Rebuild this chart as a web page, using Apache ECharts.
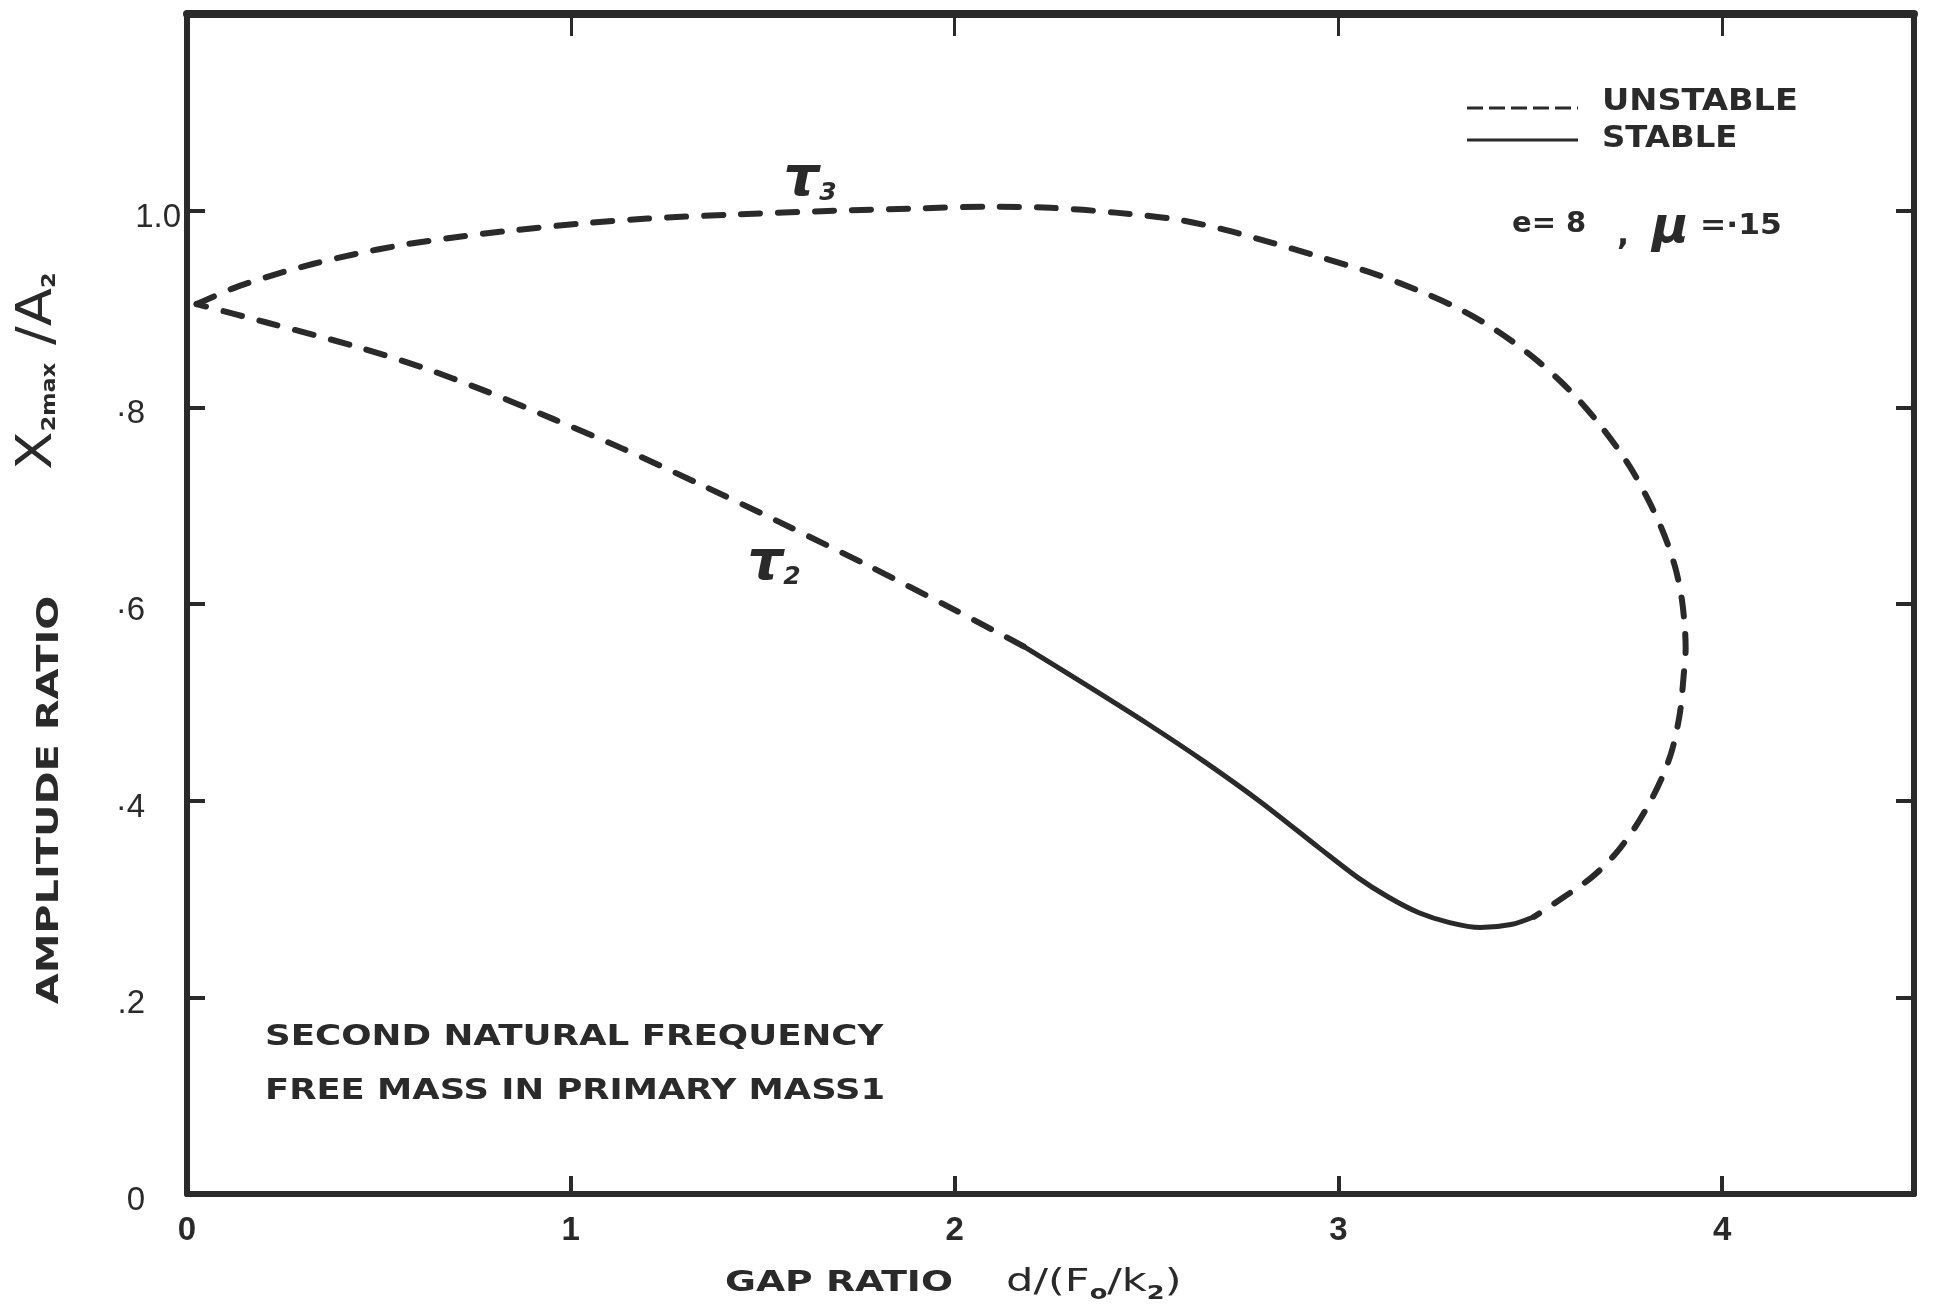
<!DOCTYPE html>
<html>
<head>
<meta charset="utf-8">
<title>Amplitude ratio vs gap ratio</title>
<script src="https://cdn.jsdelivr.net/npm/echarts@6/dist/echarts.min.js"></script>
<style>
  html, body { margin: 0; padding: 0; background: #ffffff; }
  #chart { width: 1953px; height: 1313px; }
</style>
</head>
<body>
<div id="chart"></div>
<script>
// Axis ticks and their printed labels
const xTickValues = [0, 1, 2, 3, 4];
const xTickLabels = ['0', '1', '2', '3', '4'];
const yTickValues = [0, 0.2, 0.4, 0.6, 0.8, 1.0];
const yTickLabels = ['0', '.2', '·4', '·6', '·8', '1.0'];

// τ3 branch (unstable): from d = 0 over the top, round the turning point, down to where the stable part begins
const upperBranch = [
  [0.025, 0.905], [0.12, 0.921], [0.22, 0.934], [0.33, 0.946], [0.44, 0.956],
  [0.56, 0.965], [0.68, 0.972], [0.85, 0.980], [1.03, 0.987], [1.20, 0.992],
  [1.42, 0.996], [1.69, 1.000], [1.88, 1.002], [2.09, 1.004], [2.25, 1.003],
  [2.42, 0.998], [2.58, 0.991], [2.70, 0.981], [2.83, 0.967], [2.96, 0.952],
  [3.10, 0.935], [3.22, 0.917], [3.30, 0.903], [3.38, 0.886], [3.45, 0.868],
  [3.52, 0.847], [3.58, 0.826], [3.63, 0.806], [3.68, 0.783], [3.73, 0.757],
  [3.77, 0.733], [3.81, 0.704], [3.84, 0.679], [3.86, 0.659], [3.88, 0.634],
  [3.895, 0.605], [3.903, 0.575], [3.905, 0.555], [3.90, 0.528], [3.89, 0.489],
  [3.87, 0.452], [3.845, 0.425], [3.81, 0.397], [3.77, 0.371], [3.72, 0.345],
  [3.66, 0.322], [3.58, 0.300], [3.51, 0.282]
];

// Stable segment around the minimum
const stableBranch = [
  [3.51, 0.282], [3.45, 0.274], [3.37, 0.271], [3.29, 0.276], [3.21, 0.286],
  [3.13, 0.302], [3.05, 0.322], [2.95, 0.352], [2.80, 0.398], [2.65, 0.440],
  [2.50, 0.479], [2.35, 0.516], [2.18, 0.557]
];

// τ2 branch (unstable) back to d = 0
const lowerBranch = [
  [2.18, 0.557], [2.00, 0.594], [1.78, 0.638], [1.54, 0.684], [1.33, 0.723],
  [1.135, 0.758], [0.955, 0.788], [0.775, 0.817], [0.61, 0.841], [0.43, 0.863],
  [0.21, 0.886], [0.025, 0.905]
];

const INK = '#2a2a2a';
const FONT = "'DejaVu Sans', sans-serif";
const NUM_FONT = "'Liberation Sans', 'DejaVu Sans', sans-serif";

function labelFor(values, labels, v) {
  const i = values.findIndex(t => Math.abs(t - v) < 1e-6);
  return i < 0 ? '' : labels[i];
}

function frameAxis(extra) {
  return Object.assign({
    type: 'value',
    splitLine: { show: false },
    axisLine: { show: true, onZero: false, lineStyle: { color: INK, width: 6 } },
    axisTick: { show: true, inside: true, length: 18, lineStyle: { color: INK, width: 4 } }
  }, extra);
}

const dashed = { color: INK, width: 6, type: [19, 18], cap: 'round', join: 'round' };

function txt(x, y, text, font, extra) {
  return Object.assign({
    type: 'text', x: x, y: y,
    style: { text: text, font: font, fill: INK,
             textAlign: 'left', align: 'left', textVerticalAlign: 'middle', verticalAlign: 'middle' }
  }, extra || {});
}

function tauLabel(x, y, sub) {
  return {
    type: 'text', x: x, y: y,
    style: {
      text: '{t|τ}{s|' + sub + '}', fill: INK,
      textAlign: 'center', align: 'center', textVerticalAlign: 'middle', verticalAlign: 'middle',
      rich: {
        t: { fontFamily: FONT, fontStyle: 'italic', fontWeight: 'bold', fontSize: 56, fill: INK, color: INK },
        s: { fontFamily: FONT, fontStyle: 'italic', fontWeight: 'bold', fontSize: 25, fill: INK, color: INK, padding: [26, 0, 0, 0] }
      }
    }
  };
}

const chart = echarts.init(document.getElementById('chart'), null, { renderer: 'canvas' });

chart.setOption({
  backgroundColor: '#ffffff',
  animation: false,
  grid: { left: 187, right: 39, top: 14, bottom: 119 },
  xAxis: [
    frameAxis({
      position: 'bottom', min: 0, max: 4.5, interval: 1,
      axisLabel: {
        margin: 20, color: INK, fontFamily: NUM_FONT, fontSize: 33, fontWeight: 'bold',
        formatter: v => labelFor(xTickValues, xTickLabels, v)
      }
    }),
    frameAxis({
      position: 'top', min: 0, max: 4.5, interval: 1,
      axisLine: { show: true, onZero: false, lineStyle: { color: INK, width: 8 } },
      axisTick: { show: true, inside: true, length: 22, lineStyle: { color: INK, width: 3 } },
      axisLabel: { show: false }
    })
  ],
  yAxis: [
    frameAxis({
      position: 'left', min: 0, max: 1.2, interval: 0.2,
      axisLabel: {
        margin: 42, color: INK, fontFamily: NUM_FONT, fontSize: 33, padding: [14, 0, 0, 0],
        formatter: v => {
          const s = labelFor(yTickValues, yTickLabels, v);
          return s === '1.0' ? '{top|' + s + '}' : s;
        },
        rich: {
          top: { color: INK, fontFamily: NUM_FONT, fontSize: 33, padding: [0, -36, 0, 0] }
        }
      }
    }),
    frameAxis({
      position: 'right', min: 0, max: 1.2, interval: 0.2,
      axisLabel: { show: false }
    })
  ],
  series: [
    {
      name: 'τ3', type: 'line', data: upperBranch, showSymbol: false, smooth: 0.3,
      lineStyle: dashed, silent: true
    },
    {
      name: 'stable', type: 'line', data: stableBranch, showSymbol: false, smooth: 0.3,
      lineStyle: { color: INK, width: 5, cap: 'round', join: 'round' }, silent: true
    },
    {
      name: 'τ2', type: 'line', data: lowerBranch, showSymbol: false, smooth: 0.3,
      lineStyle: dashed, silent: true
    }
  ],
  graphic: [
    // key
    { type: 'line', shape: { x1: 1467, y1: 108, x2: 1578, y2: 108 },
      style: { stroke: INK, lineWidth: 3, lineDash: [16, 6] } },
    { type: 'line', shape: { x1: 1467, y1: 140, x2: 1578, y2: 140 },
      style: { stroke: INK, lineWidth: 3 } },
    txt(1602, 102, 'UNSTABLE', 'bold 30px ' + FONT, { scaleX: 1.12 }),
    txt(1602, 139, 'STABLE', 'bold 30px ' + FONT, { scaleX: 1.08 }),

    // parameters
    txt(1512, 224, 'e= 8', 'bold 29px ' + FONT),
    txt(1617, 236, ',', 'bold 32px ' + FONT),
    txt(1652, 229, 'μ', 'italic bold 50px ' + FONT),
    txt(1700, 226, '=·15', 'bold 29px ' + FONT, { scaleX: 1.08 }),

    // branch names
    tauLabel(810, 180, '3'),
    tauLabel(774, 564, '2'),

    // case description
    txt(265, 1037, 'SECOND NATURAL FREQUENCY', 'bold 29px ' + FONT, { scaleX: 1.23 }),
    txt(265, 1091, 'FREE MASS IN PRIMARY MASS1', 'bold 29px ' + FONT, { scaleX: 1.22 }),

    // x-axis title
    txt(725, 1283, 'GAP RATIO', 'bold 29px ' + FONT, { scaleX: 1.3 }),
    {
      type: 'text', x: 1006, y: 1283, scaleX: 1.35,
      style: {
        text: '{n|d/(F}{s|o}{n|/k}{s|2}{n|)}', fill: INK,
        textAlign: 'left', align: 'left', textVerticalAlign: 'middle', verticalAlign: 'middle',
        rich: {
          n: { fontFamily: FONT, fontSize: 32, fill: INK, color: INK },
          s: { fontFamily: FONT, fontSize: 19, fontWeight: 'bold', fill: INK, color: INK, padding: [22, 0, 0, 0] }
        }
      }
    },

    // y-axis title
    {
      type: 'text', x: 50, y: 800, rotation: Math.PI / 2, scaleX: 1.33,
      style: { text: 'AMPLITUDE RATIO', font: 'bold 30px ' + FONT, fill: INK,
               textAlign: 'center', align: 'center', textVerticalAlign: 'middle', verticalAlign: 'middle' }
    },
    {
      type: 'text', x: 38, y: 371, rotation: Math.PI / 2, scaleX: 1.12,
      style: {
        text: '{b|X}{s|2max}{b| /A}{s|2}', fill: INK,
        textAlign: 'center', align: 'center', textVerticalAlign: 'middle', verticalAlign: 'middle',
        rich: {
          b: { fontFamily: FONT, fontSize: 50, fill: INK, color: INK },
          s: { fontFamily: FONT, fontSize: 20, fontWeight: 'bold', fill: INK, color: INK, padding: [24, 0, 0, 0] }
        }
      }
    }
  ]
});
</script>
</body>
</html>
